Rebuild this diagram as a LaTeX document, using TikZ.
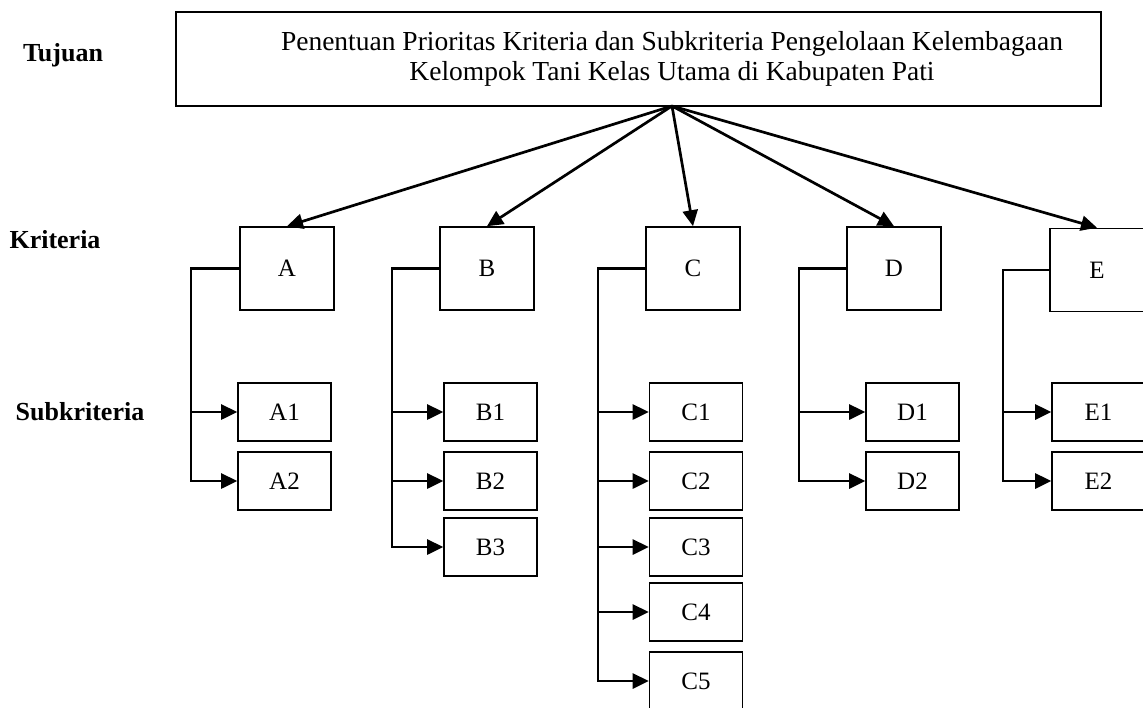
\documentclass[tikz,border=0pt]{standalone}
\usepackage{fontspec}
\setmainfont{Liberation Serif}
\usetikzlibrary{arrows.meta,calc}
\begin{document}
\begin{tikzpicture}[x=1pt,y=-1pt,
  box/.style={draw, line width=1.6pt, inner sep=0pt},
  goalbox/.style={box, minimum width=925pt, minimum height=94pt},
  critbox/.style={box, minimum width=94pt, minimum height=83pt, font=\fontsize{25}{30}\selectfont},
  subbox/.style={box, minimum width=93pt, minimum height=58pt, font=\fontsize{25}{30}\selectfont},
  lvl/.style={font=\fontsize{26}{30}\selectfont\bfseries},
  conn/.style={line width=2.7pt, line join=miter, -{Triangle[length=16pt,width=15pt]}}
]
\useasboundingbox (0,0) rectangle (1143,707);
\clip (0,0) rectangle (1143,707);

% level labels
\node[lvl] (ltuj) at (63,55) {Tujuan};
\node[lvl] (lkri) at (55,240) {Kriteria};
\node[lvl] (lsub) at (80,412) {Subkriteria};

% goal
\node[goalbox] (goal) at (638.5,59) {};
\node[align=center, inner sep=0pt, font=\fontsize{27.5}{30.5}\selectfont] (goaltxt) at (672,59)
  {Penentuan Prioritas Kriteria dan Subkriteria Pengelolaan Kelembagaan\\Kelompok Tani Kelas Utama di Kabupaten Pati};
\coordinate (apex) at (672,106);

% criteria
\node[critbox] (A) at (287,268.5) {A};
\node[critbox] (B) at (487,268.5) {B};
\node[critbox] (C) at (693,268.5) {C};
\node[critbox] (D) at (894,268.5) {D};
\node[critbox] (E) at (1097,270) {E};

\foreach \k in {A,B,C,D,E} \draw[conn] (apex) -- (\k.north);

% subcriteria
\node[subbox] (A1) at (284.5,412) {A1};
\node[subbox] (A2) at (284.5,481) {A2};
\node[subbox] (B1) at (490.5,412) {B1};
\node[subbox] (B2) at (490.5,481) {B2};
\node[subbox] (B3) at (490.5,547) {B3};
\node[subbox] (C1) at (696,412) {C1};
\node[subbox] (C2) at (696,481) {C2};
\node[subbox] (C3) at (696,547) {C3};
\node[subbox] (C4) at (696,612) {C4};
\node[subbox] (C5) at (696,681) {C5};
\node[subbox] (D1) at (912.5,412) {D1};
\node[subbox] (D2) at (912.5,481) {D2};
\node[subbox] (E1) at (1098.5,412) {E1};
\node[subbox] (E2) at (1098.5,481) {E2};

% buses
\coordinate (Abus) at (191,0);
\coordinate (Bbus) at (392,0);
\coordinate (Cbus) at (598,0);
\coordinate (Dbus) at (799,0);
\coordinate (Ebus) at (1003,0);

\draw[conn] (A.west) -| (Abus |- A2.west) -- (A2.west);
\draw[conn] (Abus |- A1.west) -- (A1.west);

\draw[conn] (B.west) -| (Bbus |- B3.west) -- (B3.west);
\foreach \s in {B1,B2} \draw[conn] (Bbus |- \s.west) -- (\s.west);

\draw[conn] (C.west) -| (Cbus |- C5.west) -- (C5.west);
\foreach \s in {C1,C2,C3,C4} \draw[conn] (Cbus |- \s.west) -- (\s.west);

\draw[conn] (D.west) -| (Dbus |- D2.west) -- (D2.west);
\draw[conn] (Dbus |- D1.west) -- (D1.west);

\draw[conn] (E.west) -| (Ebus |- E2.west) -- (E2.west);
\draw[conn] (Ebus |- E1.west) -- (E1.west);
\end{tikzpicture}
\end{document}
